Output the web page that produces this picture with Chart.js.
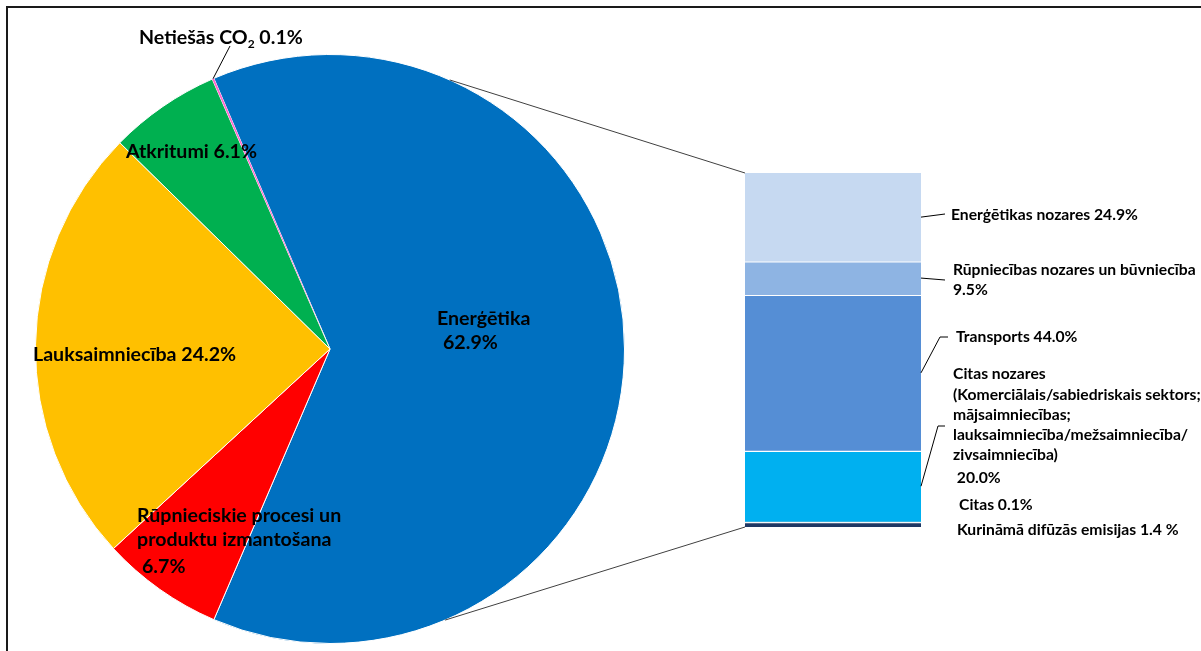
<!DOCTYPE html>
<html>
<head>
<meta charset="utf-8">
<script src="https://cdn.jsdelivr.net/npm/chart.js@4.4.0/dist/chart.umd.min.js"></script>
<style>
  body { margin: 0; background: #fff; }
  #wrap { position: relative; width: 1201px; height: 651px; overflow: hidden; }
  #frame { position: absolute; left: 6px; top: 6px; width: 1400px; height: 900px; border: 2px solid #1a1a1a; }
  canvas { position: absolute; left: 0; top: 0; }
</style>
</head>
<body>
<div id="wrap">
  <div id="frame"></div>
  <canvas id="pieCanvas" width="1201" height="651"></canvas>
  <canvas id="barCanvas" width="1201" height="651"></canvas>
</div>
<script>
// pie: emisijas pa sektoriem (%)
const pieLabels = ['Enerģētika', 'Rūpnieciskie procesi un produktu izmantošana', 'Lauksaimniecība', 'Atkritumi', 'Netiešās CO2'];
const pieValues = [62.9, 6.7, 24.2, 6.1, 0.1];

// bar: enerģētikas sadalījums (%), no augšas uz leju
const barLabels = ['Enerģētikas nozares', 'Rūpniecības nozares un būvniecība', 'Transports', 'Citas nozares', 'Citas', 'Kurināmā difūzās emisijas'];
const barValues = [24.9, 9.5, 44.0, 20.0, 0.1, 1.4];

const pieColors = ['#0070C0', '#FF0000', '#FFC000', '#00B050', '#FF66CC'];
const barColors = ['#C6D9F1', '#8EB4E3', '#558ED5', '#00B0F0', '#7F7F7F', '#1F3864'];

const PIE_FONT = 'bold 19.6px Lato';
const BAR_FONT = 'bold 15.7px Lato';

// teksta izkārtojums ({v} = vērtība)
const pieText = [
  { lines: [['Enerģētika', 437, 325], ['{v}%', 443, 349]] },
  { lines: [['Rūpnieciskie procesi un', 137, 522], ['produktu izmantošana', 137, 546], ['{v}%', 142, 573]] },
  { lines: [['Lauksaimniecība {v}%', 33, 361]] },
  { lines: [['Atkritumi {v}%', 126, 158]] },
  { lines: [['Netiešās CO₂ {v}%', 139, 44]], leader: [[230, 46]] }
];

const barText = [
  { lines: [['Enerģētikas nozares {v}%', 951, 220]], leader: [[945, 214]] },
  { lines: [['Rūpniecības nozares un būvniecība', 953, 275], ['{v}%', 953, 295]], leader: [[945, 280]] },
  { lines: [['Transports {v}%', 956, 342]], leader: [[940, 337], [948, 337]] },
  { lines: [['Citas nozares', 953, 379], ['(Komerciālais/sabiedriskais sektors;', 953, 400], ['mājsaimniecības;', 953, 420],
            ['lauksaimniecība/mežsaimniecība/', 953, 440], ['zivsaimniecība)', 953, 460], [' {v}%', 953, 483]],
    leader: [[938, 426], [945, 426]] },
  { lines: [['Citas {v}%', 959, 510]] },
  { lines: [['Kurināmā difūzās emisijas {v} %', 957, 535]] }
];

// savienojuma līniju leņķi uz apļa (grādi no augšas, pulksteņrādītāja virzienā)
const connAngles = [24, 157];

function drawRich(ctx, text, x, y, font) {
  ctx.font = font;
  const i = text.indexOf('₂');
  if (i < 0) { ctx.fillText(text, x, y); return; }
  const a = text.slice(0, i), b = text.slice(i + 1);
  ctx.fillText(a, x, y);
  let w = ctx.measureText(a).width;
  const size = parseFloat(font.match(/([\d.]+)px/)[1]);
  ctx.font = font.replace(/[\d.]+px/, Math.round(size * 0.62) + 'px');
  ctx.fillText('2', x + w, y + size * 0.22);
  w += ctx.measureText('2').width;
  ctx.font = font;
  ctx.fillText(b, x + w, y);
}

function drawLabels(ctx, layout, values, font) {
  ctx.save();
  ctx.fillStyle = '#000';
  ctx.textBaseline = 'alphabetic';
  layout.forEach((item, idx) => {
    item.lines.forEach(([t, x, y]) => {
      drawRich(ctx, t.replace('{v}', values[idx].toFixed(1)), x, y, font);
    });
  });
  ctx.restore();
}

function polyline(ctx, pts, color) {
  ctx.save();
  ctx.strokeStyle = color;
  ctx.lineWidth = 1;
  ctx.beginPath();
  ctx.moveTo(pts[0][0], pts[0][1]);
  pts.slice(1).forEach(p => ctx.lineTo(p[0], p[1]));
  ctx.stroke();
  ctx.restore();
}

const pieTextPlugin = {
  id: 'pieText',
  afterDraw(chart) {
    const ctx = chart.ctx;
    const arcs = chart.getDatasetMeta(0).data;
    pieText.forEach((item, idx) => {
      if (!item.leader) return;
      const arc = arcs[idx];
      const mid = (arc.startAngle + arc.endAngle) / 2;
      const start = [arc.x + arc.outerRadius * Math.cos(mid), arc.y + arc.outerRadius * Math.sin(mid)];
      polyline(ctx, [start].concat(item.leader), '#000');
    });
    drawLabels(ctx, pieText, pieValues, PIE_FONT);
  }
};

const barTotal = barValues.reduce((s, v) => s + v, 0);

const pieChart = new Chart(document.getElementById('pieCanvas'), {
  type: 'pie',
  data: {
    labels: pieLabels,
    datasets: [{
      data: pieValues,
      backgroundColor: pieColors,
      borderColor: '#fff',
      borderWidth: [1, 1, 1, 1, 0]
    }]
  },
  options: {
    responsive: false,
    animation: false,
    devicePixelRatio: 1,
    rotation: 90 - pieValues[0] * 3.6 / 2,
    layout: { padding: { left: 35, top: 54, right: 576, bottom: 7 } },
    plugins: { legend: { display: false }, tooltip: { enabled: false } }
  },
  plugins: [pieTextPlugin]
});

const barTextPlugin = {
  id: 'barText',
  afterDraw(chart) {
    const ctx = chart.ctx;
    const metas = chart.data.datasets.map((d, i) => chart.getDatasetMeta(i).data[0]);

    // savienojuma līnijas no apļa uz stabiņu
    const arc = pieChart.getDatasetMeta(0).data[0];
    const topBar = metas[0], botBar = metas[metas.length - 1];
    const corners = [
      [topBar.x - topBar.width / 2, Math.min(topBar.y, topBar.base)],
      [botBar.x - botBar.width / 2, Math.max(botBar.y, botBar.base)]
    ];
    connAngles.forEach((a, k) => {
      const rad = a * Math.PI / 180;
      const p = [arc.x + arc.outerRadius * Math.sin(rad), arc.y - arc.outerRadius * Math.cos(rad)];
      polyline(ctx, [p, corners[k]], '#404040');
    });

    barText.forEach((item, idx) => {
      if (!item.leader) return;
      const el = metas[idx];
      const start = [el.x + el.width / 2, (el.y + el.base) / 2];
      polyline(ctx, [start].concat(item.leader), '#000');
    });
    drawLabels(ctx, barText, barValues, BAR_FONT);
  }
};

new Chart(document.getElementById('barCanvas'), {
  type: 'bar',
  data: {
    labels: [''],
    datasets: barLabels.map((l, i) => ({
      label: l,
      data: [barValues[i]],
      backgroundColor: barColors[i],
      borderColor: '#fff',
      borderWidth: i === 0 ? 0 : { top: 1.5 },
      borderSkipped: false,
      barPercentage: 1,
      categoryPercentage: 1
    }))
  },
  options: {
    responsive: false,
    animation: false,
    devicePixelRatio: 1,
    layout: { padding: { left: 745, top: 173, right: 280, bottom: 124 } },
    scales: {
      x: { stacked: true, display: false },
      y: { stacked: true, display: false, reverse: true, min: 0, max: barTotal }
    },
    plugins: { legend: { display: false }, tooltip: { enabled: false } }
  },
  plugins: [barTextPlugin]
});
</script>
</body>
</html>
